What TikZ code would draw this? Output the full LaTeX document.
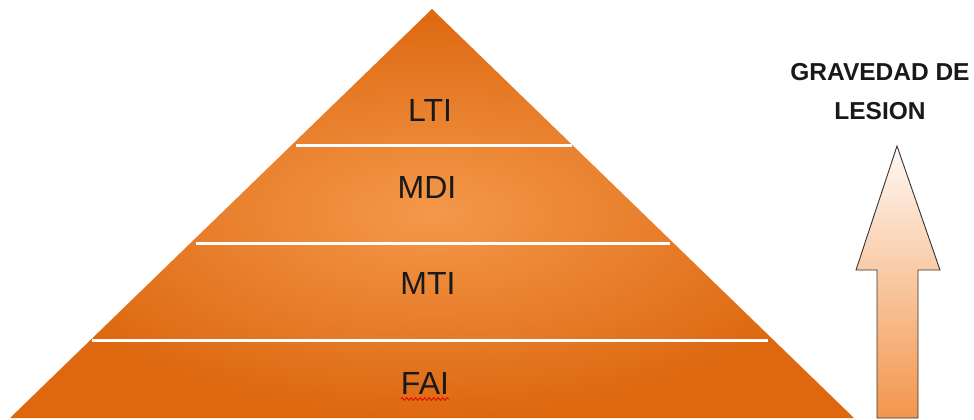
\documentclass[tikz,border=0pt]{standalone}
\usepackage{fontspec}
\setmainfont{Liberation Sans}
\usepackage{tikz}
\usetikzlibrary{decorations.pathmorphing}
\definecolor{pyrdark}{RGB}{221,104,16}
\definecolor{pyrlight}{RGB}{244,152,74}
\definecolor{arrlight}{RGB}{255,248,244}
\definecolor{arrdark}{RGB}{242,150,76}

\begin{document}
\begin{tikzpicture}[x=1pt,y=-1pt,
  lvl/.style={inner sep=0pt,font=\fontsize{32}{36}\selectfont,text=black!90},
  sevtxt/.style={inner sep=0pt,font=\fontsize{24.5}{28}\selectfont\bfseries,text=black!90},
  sep/.style={white,line width=3pt},
  squiggle/.style={red!90!black,line width=0.8pt,decorate,
    decoration={snake,amplitude=1.4pt,segment length=4.5pt}}]
\useasboundingbox (0,0) rectangle (974,420);
\coordinate (top) at (432,9);
\coordinate (bl) at (10,418);
\coordinate (br) at (854,418);
\shade[inner color=pyrlight,outer color=pyrdark] (top) -- (br) -- (bl) -- cycle;
\begin{scope}
  \clip (top) -- (br) -- (bl) -- cycle;
  \draw[sep] (296,145) -- (572,145);
  \draw[sep] (196,243) -- (670,243);
  \draw[sep] (92,340) -- (768,340);
\end{scope}
\node[lvl] (lti) at (430,110) {LTI};
\node[lvl] (mdi) at (427,187) {MDI};
\node[lvl] (mti) at (428,283) {MTI};
\node[lvl] (fai) at (425,383) {FAI};
\draw[squiggle] ([yshift=-5pt]fai.base west) -- ([yshift=-5pt]fai.base east);
\shadedraw[top color=arrlight,bottom color=arrdark,draw=black!80,line width=0.9pt]
  (897,146) -- (940,270) -- (918,270) -- (918,418) -- (877,418) -- (877,270)
  -- (856,270) -- cycle;
\node[sevtxt] (grav) at (880,72) {GRAVEDAD DE};
\node[sevtxt] (les) at (880,111) {LESION};
\end{tikzpicture}
\end{document}
